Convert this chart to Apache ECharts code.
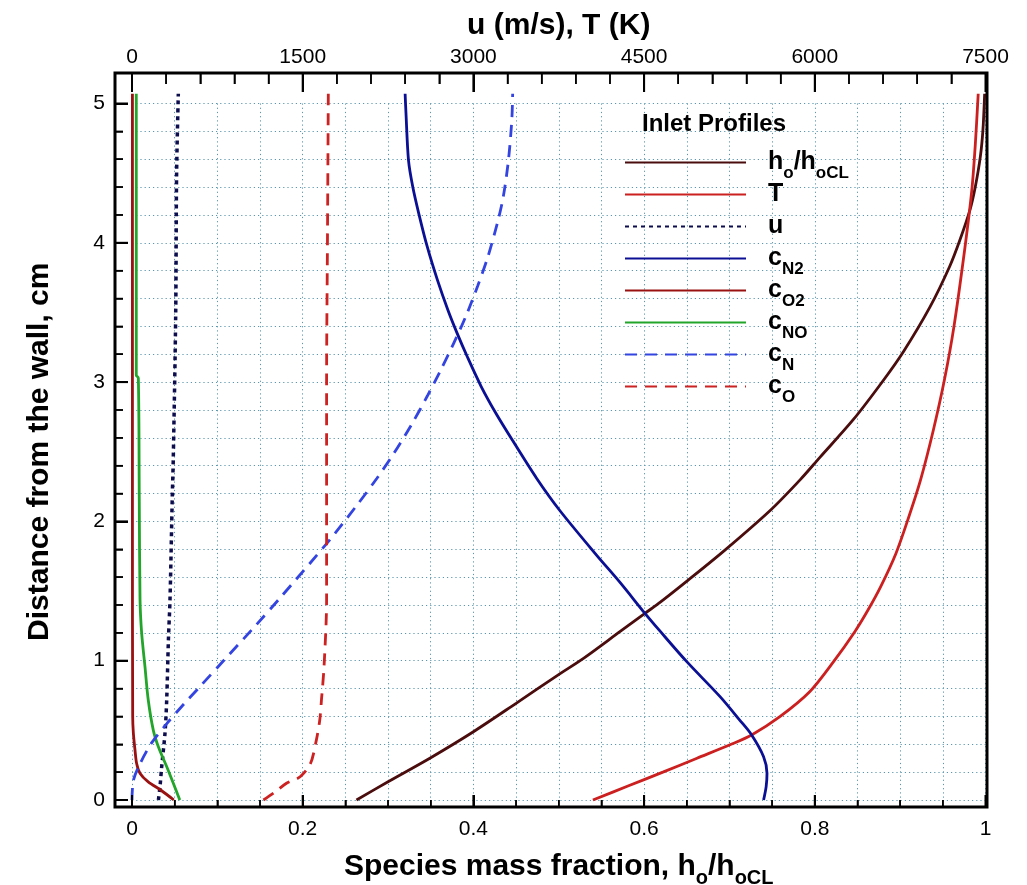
<!DOCTYPE html>
<html>
<head>
<meta charset="utf-8">
<script src="https://cdn.jsdelivr.net/npm/echarts@6/dist/echarts.min.js"></script>
<style>html,body{margin:0;padding:0;background:#fff}#c{width:1027px;height:885px}</style>
</head>
<body>
<div id="c"></div>
<script>
// ---------- data (depth y in cm, x = value) ----------
// h_o/h_oCL (bottom axis)
const hRatioY = [0, 0.131, 0.30, 0.49, 0.694, 0.897, 1.017, 1.21, 1.34, 1.42, 1.58, 1.79, 2.08, 2.30, 2.46, 2.73, 3.01, 3.22, 3.54, 3.83, 4.02, 4.24, 4.40, 4.62, 4.81, 5.07];
const hRatioX = [0.263, 0.300, 0.349, 0.400, 0.450, 0.499, 0.529, 0.572, 0.601, 0.619, 0.652, 0.694, 0.748, 0.783, 0.806, 0.845, 0.880, 0.904, 0.935, 0.958, 0.970, 0.982, 0.988, 0.994, 0.997, 0.999];
// T in K (top axis)
const tempY = [0, 0.1, 0.2, 0.3, 0.4, 0.467, 0.598, 0.777, 0.993, 1.21, 1.36, 1.53, 1.77, 2.03, 2.30, 2.66, 3.02, 3.4, 3.97, 4.38, 4.7, 5.07];
const tempX = [4050, 4358, 4665, 4965, 5265, 5445, 5693, 5955, 6165, 6353, 6465, 6578, 6713, 6825, 6930, 7043, 7140, 7223, 7320, 7380, 7410, 7436];
// u in m/s (top axis)
const velY = [0, 0.096, 0.24, 0.48, 0.72, 1.15, 1.44, 2.18, 2.46, 3.49, 4.5, 5.07];
const velX = [232, 246, 261, 290, 305, 320, 334, 354, 363, 384, 392, 407];
// c_N2
const cN2Y = [0, 0.096, 0.192, 0.311, 0.467, 0.574, 0.742, 0.993, 1.21, 1.34, 1.56, 1.76, 2.08, 2.31, 2.58, 2.78, 2.97, 3.18, 3.35, 3.52, 3.73, 3.97, 4.21, 4.40, 4.59, 4.93, 5.07];
const cN2X = [0.740, 0.743, 0.744, 0.740, 0.726, 0.712, 0.689, 0.650, 0.619, 0.601, 0.572, 0.544, 0.501, 0.474, 0.446, 0.426, 0.409, 0.393, 0.381, 0.370, 0.358, 0.346, 0.336, 0.329, 0.324, 0.321, 0.320];
// c_O2
const cO2Y = [0, 0.07, 0.13, 0.19, 0.26, 0.36, 0.48, 0.6, 2.0, 5.07];
const cO2X = [0.049, 0.034, 0.019, 0.0095, 0.0055, 0.0035, 0.0016, 0.0008, 0.0005, 0.0005];
// c_NO
const cNOY = [0, 0.12, 0.24, 0.38, 0.50, 0.72, 0.957, 1.20, 1.44, 2.18, 3.03, 3.05, 5.07];
const cNOX = [0.056, 0.0484, 0.0406, 0.031, 0.025, 0.019, 0.0152, 0.0113, 0.0094, 0.0085, 0.0074, 0.0050, 0.0050];
// c_N
const cNY = [0, 0.14, 0.26, 0.41, 0.55, 0.69, 0.81, 1.005, 1.26, 1.44, 1.87, 2.12, 2.31, 2.49, 2.70, 2.90, 3.09, 3.28, 3.47, 3.69, 3.90, 4.14, 4.33, 4.59, 4.88, 5.07];
const cNX = [0.0, 0.0016, 0.0094, 0.023, 0.041, 0.061, 0.079, 0.108, 0.146, 0.172, 0.232, 0.264, 0.287, 0.307, 0.328, 0.346, 0.362, 0.377, 0.391, 0.405, 0.417, 0.428, 0.435, 0.441, 0.445, 0.446];
// c_O
const cOY = [0, 0.05, 0.12, 0.167, 0.26, 0.43, 0.574, 0.72, 0.957, 1.44, 2.15, 3.0, 4.0, 5.07];
const cOX = [0.154, 0.166, 0.181, 0.197, 0.209, 0.216, 0.220, 0.222, 0.225, 0.228, 0.228, 0.228, 0.229, 0.230];

// ---------- axes / ticks ----------
const bottomRange = [0, 1], bottomStep = 0.2;
const topRange = [0, 7500], topStep = 1500;
const leftRange = [0, 5], leftStep = 1;
const bottomTicks = [0, 0.2, 0.4, 0.6, 0.8, 1];
const bottomMinor = [0.05, 0.1, 0.15, 0.25, 0.3, 0.35, 0.45, 0.5, 0.55, 0.65, 0.7, 0.75, 0.85, 0.9, 0.95];
const topTicks = [0, 1500, 3000, 4500, 6000, 7500];
const topMinor = [300, 600, 900, 1200, 1800, 2100, 2400, 2700, 3300, 3600, 3900, 4200, 4800, 5100, 5400, 5700, 6300, 6600, 6900, 7200];
const leftTicks = [0, 1, 2, 3, 4, 5];
const leftMinor = [0.2, 0.4, 0.6, 0.8, 1.2, 1.4, 1.6, 1.8, 2.2, 2.4, 2.6, 2.8, 3.2, 3.4, 3.6, 3.8, 4.2, 4.4, 4.6, 4.8];

const seriesNames = ['h_o/h_oCL', 'T', 'u', 'c_N2', 'c_O2', 'c_NO', 'c_N', 'c_O'];
const legendLabels = {
  'h_o/h_oCL': '{b|h}{s|o}{b|/h}{s|oCL}',
  'T': '{b|T}{s| }',
  'u': '{b|u}{s| }',
  'c_N2': '{b|c}{s|N2}',
  'c_O2': '{b|c}{s|O2}',
  'c_NO': '{b|c}{s|NO}',
  'c_N': '{b|c}{s|N}',
  'c_O': '{b|c}{s|O}'
};

const FONT = "'Liberation Sans', Arial, Helvetica, sans-serif";
const FRAME = { x: 115, y: 73, width: 872, height: 734 };

function zip(xs, ys) { return ys.map((y, i) => [xs[i], y]); }

function lineSeries(name, xs, ys, color, width, type, xIdx) {
  return {
    name: name, type: 'line', xAxisIndex: xIdx, yAxisIndex: 0,
    data: zip(xs, ys), symbol: 'none', showSymbol: false, smooth: 0.3,
    clip: false,
    lineStyle: { color: color, width: width, type: type },
    itemStyle: { color: color },
    emphasis: { disabled: true }, z: 3
  };
}

const gridLine = () => ({ color: '#5a96ad', width: 1, type: [1.2, 3] });
const tickStyle = () => ({ color: '#000', width: 2 });
const minorTickStyle = () => ({ color: '#000', width: 1.5 });
const labelStyle = (margin) => ({ show: true, margin: margin, fontSize: 21, color: '#000', fontFamily: FONT, formatter: v => String(v) });

const option = {
  animation: false,
  backgroundColor: '#fff',
  title: {
    text: 'Inlet Profiles', left: 642, top: 112, padding: 0,
    textStyle: { fontFamily: FONT, fontSize: 24, fontWeight: 'bold', color: '#000' }
  },
  legend: {
    orient: 'vertical', left: 624, top: 143, padding: 0,
    itemWidth: 121, itemHeight: 14, itemGap: -7, selectedMode: false,
    itemStyle: { opacity: 0 },
    data: seriesNames,
    formatter: n => legendLabels[n],
    textStyle: {
      fontFamily: FONT, fontSize: 25, fontWeight: 'bold', color: '#000', lineHeight: 26,
      padding: [0, 0, 0, 17],
      rich: {
        b: { fontFamily: FONT, fontSize: 25, fontWeight: 'bold', color: '#000', lineHeight: 26 },
        s: { fontFamily: FONT, fontSize: 17, fontWeight: 'bold', color: '#000', lineHeight: 26, padding: [22, 0, 0, 0] }
      }
    }
  },
  grid: [{ left: 132, top: 103.5, width: 853.5, height: 696.5, containLabel: false, outerBoundsMode: 'none' }],
  xAxis: [
    { type: 'value', gridIndex: 0, position: 'bottom', offset: 7,
      min: bottomRange[0], max: bottomRange[1], interval: bottomStep,
      axisLine: { show: false, onZero: false },
      axisTick: { show: true, inside: true, length: 12, lineStyle: tickStyle() },
      minorTick: { show: true, splitNumber: 4, length: 7, lineStyle: minorTickStyle() },
      axisLabel: labelStyle(12),
      splitLine: { show: true, lineStyle: gridLine() },
      minorSplitLine: { show: true, lineStyle: gridLine() },
      name: '{b|Species mass fraction, h}{s|o}{b|/h}{s|oCL}', nameLocation: 'middle', nameGap: 25,
      nameTextStyle: { fontFamily: FONT, fontSize: 30, fontWeight: 'bold', color: '#000', lineHeight: 32,
        rich: {
          b: { fontFamily: FONT, fontSize: 30, fontWeight: 'bold', color: '#000', lineHeight: 32 },
          s: { fontFamily: FONT, fontSize: 20, fontWeight: 'bold', color: '#000', lineHeight: 32, padding: [24, 0, 0, 0] }
        } } },
    { type: 'value', gridIndex: 0, position: 'top', offset: 30.5,
      min: topRange[0], max: topRange[1], interval: topStep,
      axisLine: { show: false, onZero: false },
      axisTick: { show: true, inside: true, length: 19, lineStyle: tickStyle() },
      minorTick: { show: true, splitNumber: 5, length: 11, lineStyle: minorTickStyle() },
      axisLabel: labelStyle(5),
      splitLine: { show: false },
      name: 'u (m/s), T (K)', nameLocation: 'middle', nameGap: 25,
      nameTextStyle: { fontFamily: FONT, fontSize: 30, fontWeight: 'bold', color: '#000', lineHeight: 32 } }
  ],
  yAxis: [
    { type: 'value', gridIndex: 0, position: 'left', offset: 17,
      min: leftRange[0], max: leftRange[1], interval: leftStep,
      axisLine: { show: false, onZero: false },
      axisTick: { show: true, inside: true, length: 13, lineStyle: tickStyle() },
      minorTick: { show: true, splitNumber: 5, length: 8, lineStyle: minorTickStyle() },
      axisLabel: labelStyle(10),
      splitLine: { show: true, lineStyle: gridLine() },
      minorSplitLine: { show: true, lineStyle: gridLine() },
      name: 'Distance from the wall, cm', nameLocation: 'middle', nameGap: 59, nameRotate: 90,
      nameTextStyle: { fontFamily: FONT, fontSize: 30, fontWeight: 'bold', color: '#000', lineHeight: 32 } }
  ],
  series: [
    lineSeries('h_o/h_oCL', hRatioX, hRatioY, '#4a0c0c', 2.8, 'solid', 0),
    lineSeries('T', tempX, tempY, '#cc1f1f', 2.8, 'solid', 1),
    lineSeries('u', velX, velY, '#0d0d4d', 3.5, [4, 4], 1),
    lineSeries('c_N2', cN2X, cN2Y, '#0a0f94', 2.8, 'solid', 0),
    lineSeries('c_O2', cO2X, cO2Y, '#991111', 2.8, 'solid', 0),
    lineSeries('c_NO', cNOX, cNOY, '#22a52a', 2.8, 'solid', 0),
    lineSeries('c_N', cNX, cNY, '#3344e0', 2.8, [12, 8], 0),
    lineSeries('c_O', cOX, cOY, '#cc2222', 2.8, [12, 8], 0)
  ]
};

const chart = echarts.init(document.getElementById('c'), null, { renderer: 'canvas' });
chart.setOption(option);

// frame + inward ticks placed through the axes' own scales
const els = [{
  type: 'rect', z: 10, silent: true,
  shape: { x: FRAME.x, y: FRAME.y, width: FRAME.width, height: FRAME.height },
  style: { fill: null, stroke: '#000', lineWidth: 3 }
}];
const bottomY = FRAME.y + FRAME.height, topY = FRAME.y, leftX = FRAME.x;
function xTicks(axisIdx, vals, y0, len, w) {
  vals.forEach(v => {
    const x = chart.convertToPixel({ xAxisIndex: axisIdx }, v);
    els.push({ type: 'line', z: 10, silent: true, shape: { x1: x, y1: y0, x2: x, y2: y0 + len }, style: { stroke: '#000', lineWidth: w } });
  });
}
function yTicks(vals, x0, len, w) {
  vals.forEach(v => {
    const y = chart.convertToPixel({ yAxisIndex: 0 }, v);
    els.push({ type: 'line', z: 10, silent: true, shape: { x1: x0, y1: y, x2: x0 + len, y2: y }, style: { stroke: '#000', lineWidth: w } });
  });
}
xTicks(0, bottomTicks, bottomY, -12, 2);
xTicks(0, bottomMinor, bottomY, -7, 1.5);
xTicks(1, topTicks, topY, 19, 2);
xTicks(1, topMinor, topY, 11, 1.5);
yTicks(leftTicks, leftX, 13, 2);
yTicks(leftMinor, leftX, 8, 1.5);
chart.setOption({ graphic: { elements: els } });
</script>
</body>
</html>
